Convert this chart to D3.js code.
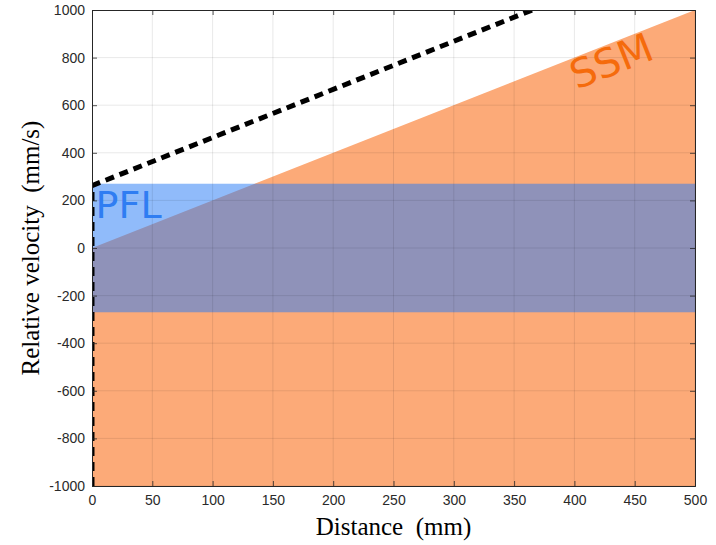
<!DOCTYPE html>
<html>
<head>
<meta charset="utf-8">
<title>SSM vs PFL</title>
<script src="https://d3js.org/d3.v7.min.js"></script>
<style>
  body { margin: 0; background: #fff; }
  .tick text { font-family: "Liberation Sans", Arial, sans-serif; font-size: 14px; fill: #2a2a2a; }
  .title { white-space: pre; }
</style>
</head>
<body>
<svg id="chart" width="716" height="545"></svg>
<script>
// data
var xTicks = [0, 50, 100, 150, 200, 250, 300, 350, 400, 450, 500];
var yTicks = [-1000, -800, -600, -400, -200, 0, 200, 400, 600, 800, 1000];
var ssmArea = [[0, 0], [500, 1000], [500, -1000], [0, -1000]];
var pflBand = [-270, 270];
var limitLine = [[0, -1000], [0, 262], [365, 1000]];

var svg = d3.select("#chart");
var m = {left: 92, right: 21, top: 10, bottom: 59};
var W = 716 - m.left - m.right, H = 545 - m.top - m.bottom;

var x = d3.scaleLinear().domain([0, 500]).range([0, W]);
var y = d3.scaleLinear().domain([-1000, 1000]).range([H, 0]);

var g = svg.append("g").attr("transform", "translate(" + m.left + "," + m.top + ")");

svg.append("defs").append("clipPath").attr("id", "clip")
  .append("rect").attr("width", W).attr("height", H);

var plot = g.append("g").attr("clip-path", "url(#clip)");

var line = d3.line().x(d => x(d[0])).y(d => y(d[1]));

// SSM region
plot.append("path")
  .attr("d", line(ssmArea) + "Z")
  .attr("fill", "#fcaa78");

// PFL band
plot.append("rect")
  .attr("x", x(0)).attr("width", x(500) - x(0))
  .attr("y", y(pflBand[1])).attr("height", y(pflBand[0]) - y(pflBand[1]))
  .attr("fill", "#2a7cf6").attr("fill-opacity", 0.52);

// grid
plot.selectAll(".gx").data(xTicks).enter().append("line")
  .attr("x1", d => x(d)).attr("x2", d => x(d)).attr("y1", 0).attr("y2", H)
  .attr("stroke", "#000").attr("stroke-opacity", 0.09).attr("stroke-width", 1);
plot.selectAll(".gy").data(yTicks).enter().append("line")
  .attr("y1", d => y(d)).attr("y2", d => y(d)).attr("x1", 0).attr("x2", W)
  .attr("stroke", "#000").attr("stroke-opacity", 0.09).attr("stroke-width", 1);

// dashed limit
plot.append("path")
  .attr("d", line(limitLine))
  .attr("fill", "none").attr("stroke", "#000")
  .attr("stroke-width", 5).attr("stroke-dasharray", "9,6");

// labels inside
g.append("text")
  .attr("x", x(3)).attr("y", y(125))
  .attr("font-family", "DejaVu Sans, sans-serif").attr("font-size", 38)
  .attr("fill", "#2f7df2").text("PFL");

var ang = -Math.atan((y(0) - y(1000)) / (x(500) - x(0))) * 180 / Math.PI;
g.append("text")
  .attr("transform", "translate(" + x(402) + "," + y(665) + ") rotate(" + ang + ")")
  .attr("font-family", "DejaVu Sans, sans-serif").attr("font-size", 40)
  .attr("fill", "#f56b0c").text("SSM");

// axes
var fmt = d => String(d);
var ax = d3.axisBottom(x).tickValues(xTicks).tickFormat(fmt).tickSize(-5).tickPadding(9);
var ay = d3.axisLeft(y).tickValues(yTicks).tickFormat(fmt).tickSize(-5).tickPadding(7);

var gx = g.append("g").attr("transform", "translate(0," + H + ")").call(ax);
var gy = g.append("g").call(ay);
var gx2 = g.append("g").call(d3.axisTop(x).tickValues(xTicks).tickSize(-5).tickFormat(""));
var gy2 = g.append("g").attr("transform", "translate(" + W + ",0)")
  .call(d3.axisRight(y).tickValues(yTicks).tickSize(-5).tickFormat(""));

[gx, gy, gx2, gy2].forEach(function (a) {
  a.select(".domain").attr("stroke", "#262626").attr("stroke-width", 1);
  a.selectAll(".tick line").attr("stroke", "#262626").attr("stroke-width", 0.8);
});

// axis titles
svg.append("text").attr("class", "title")
  .attr("x", m.left + W / 2).attr("y", 535)
  .attr("text-anchor", "middle")
  .attr("font-family", "Liberation Serif, serif").attr("font-size", 25)
  .attr("fill", "#000").text("Distance  (mm)");

svg.append("text").attr("class", "title")
  .attr("transform", "translate(39," + (m.top + H / 2) + ") rotate(-90)")
  .attr("text-anchor", "middle")
  .attr("font-family", "Liberation Serif, serif").attr("font-size", 25)
  .attr("fill", "#000").text("Relative velocity  (mm/s)");
</script>
</body>
</html>
